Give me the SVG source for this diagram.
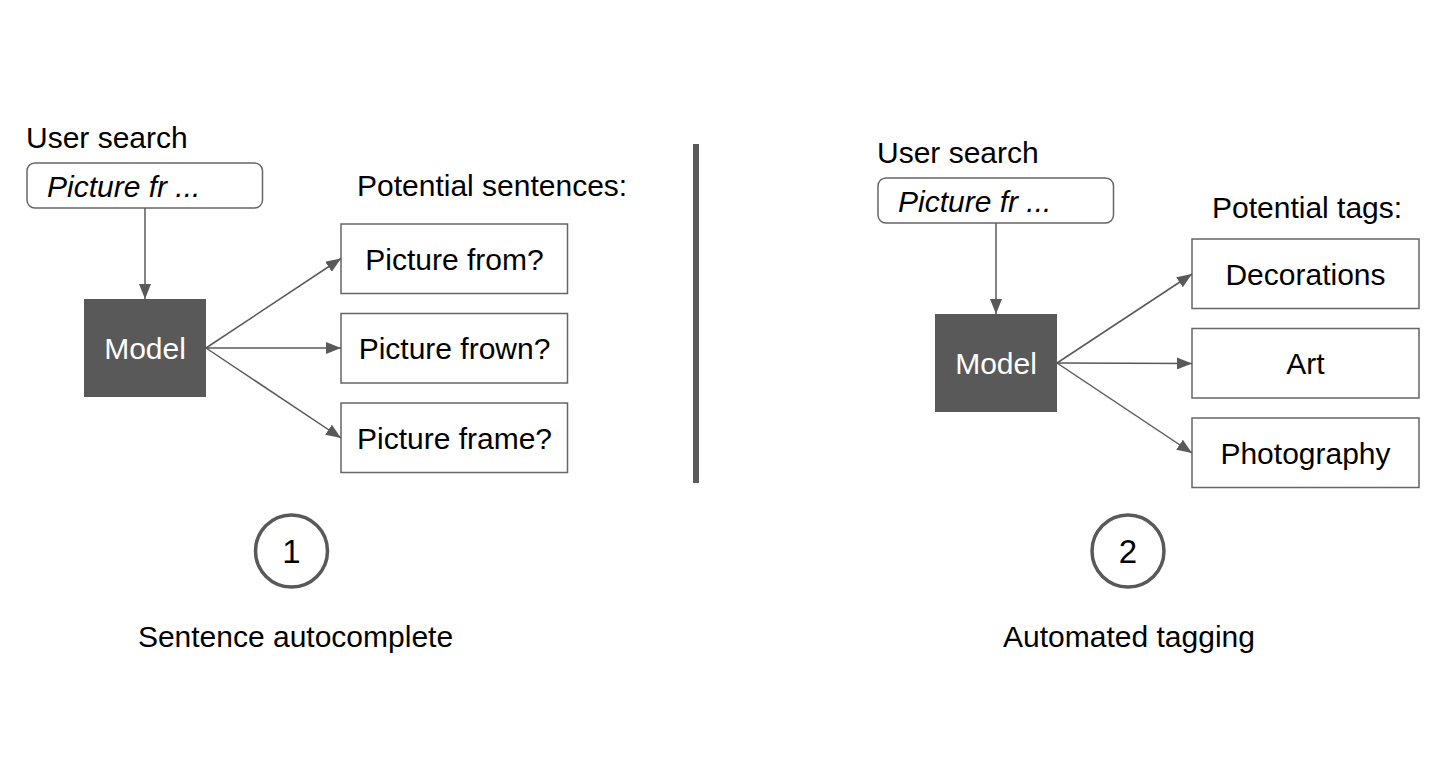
<svg xmlns="http://www.w3.org/2000/svg" width="1441" height="781" viewBox="0 0 1441 781">
  <style>
    .t { font-family: "Liberation Sans", Arial, sans-serif; font-size: 30px; fill: #000; }
    .it { font-style: italic; }
    .mid { text-anchor: middle; }
    .box { fill: #fff; stroke: #666; stroke-width: 1.5; }
    .model { fill: #595959; }
    .mt { fill: #fff; }
    .conn { stroke: #595959; stroke-width: 1.5; fill: none; marker-end: url(#arr); }
    .circ { fill: none; stroke: #595959; stroke-width: 3.5; }
    .num { font-size: 33px; }
  </style>
  <defs>
    <marker id="arr" viewBox="0 0 15 12" refX="15" refY="6" markerWidth="15" markerHeight="12" markerUnits="userSpaceOnUse" orient="auto">
      <path d="M0,0 L15,6 L0,12 z" fill="#595959"/>
    </marker>
  </defs>
  <rect width="1441" height="781" fill="#fff"/>

  <!-- Left panel -->
  <g id="left-label"><text class="t" x="26" y="148">User search</text></g>
  <g id="left-search">
    <rect class="box" x="27" y="163" width="235.5" height="45" rx="8"/>
    <text class="t it" x="47" y="197">Picture fr ...</text>
  </g>
  <g id="left-model">
    <rect class="model" x="84" y="299" width="122" height="98"/>
    <text class="t mt mid" x="145" y="359">Model</text>
  </g>
  <g id="left-potential"><text class="t" x="357" y="196">Potential sentences:</text></g>
  <g id="left-opt1">
    <rect class="box" x="341" y="224" width="226.5" height="69.5"/>
    <text class="t mid" x="454.5" y="269.5">Picture from?</text>
  </g>
  <g id="left-opt2">
    <rect class="box" x="341" y="313.5" width="226.5" height="69.5"/>
    <text class="t mid" x="454.5" y="359">Picture frown?</text>
  </g>
  <g id="left-opt3">
    <rect class="box" x="341" y="403" width="226.5" height="69.5"/>
    <text class="t mid" x="454.5" y="448.5">Picture frame?</text>
  </g>
  <g id="left-badge">
    <circle class="circ" cx="291.5" cy="551" r="36"/>
    <text class="t num mid" x="291.5" y="563">1</text>
  </g>
  <g id="left-caption"><text class="t mid" x="295.5" y="647">Sentence autocomplete</text></g>

  <!-- Divider -->
  <g id="divider"><rect x="693" y="144" width="6" height="339" fill="#595959"/></g>

  <!-- Right panel -->
  <g id="right-label"><text class="t" x="877" y="163">User search</text></g>
  <g id="right-search">
    <rect class="box" x="878" y="178" width="235.5" height="45" rx="8"/>
    <text class="t it" x="898" y="212">Picture fr ...</text>
  </g>
  <g id="right-model">
    <rect class="model" x="935" y="314" width="122" height="98"/>
    <text class="t mt mid" x="996" y="374">Model</text>
  </g>
  <g id="right-potential"><text class="t" x="1212" y="218">Potential tags:</text></g>
  <g id="right-opt1">
    <rect class="box" x="1192" y="239" width="227" height="69.5"/>
    <text class="t mid" x="1305.5" y="284.5">Decorations</text>
  </g>
  <g id="right-opt2">
    <rect class="box" x="1192" y="328.5" width="227" height="69.5"/>
    <text class="t mid" x="1305.5" y="374">Art</text>
  </g>
  <g id="right-opt3">
    <rect class="box" x="1192" y="418" width="227" height="69.5"/>
    <text class="t mid" x="1305.5" y="463.5">Photography</text>
  </g>
  <g id="right-badge">
    <circle class="circ" cx="1128" cy="551" r="36"/>
    <text class="t num mid" x="1128" y="563">2</text>
  </g>
  <g id="right-caption"><text class="t mid" x="1129" y="647">Automated tagging</text></g>

  <!-- Connectors -->
  <g id="connectors">
    <line class="conn" x1="145" y1="208" x2="145" y2="299"/>
    <line class="conn" x1="206" y1="348" x2="341" y2="258.5"/>
    <line class="conn" x1="206" y1="348" x2="341" y2="348"/>
    <line class="conn" x1="206" y1="348" x2="341" y2="438"/>
    <line class="conn" x1="996" y1="223" x2="996" y2="314"/>
    <line class="conn" x1="1057" y1="363" x2="1192" y2="274"/>
    <line class="conn" x1="1057" y1="363" x2="1192" y2="363.5"/>
    <line class="conn" x1="1057" y1="363" x2="1192" y2="453"/>
  </g>
</svg>
